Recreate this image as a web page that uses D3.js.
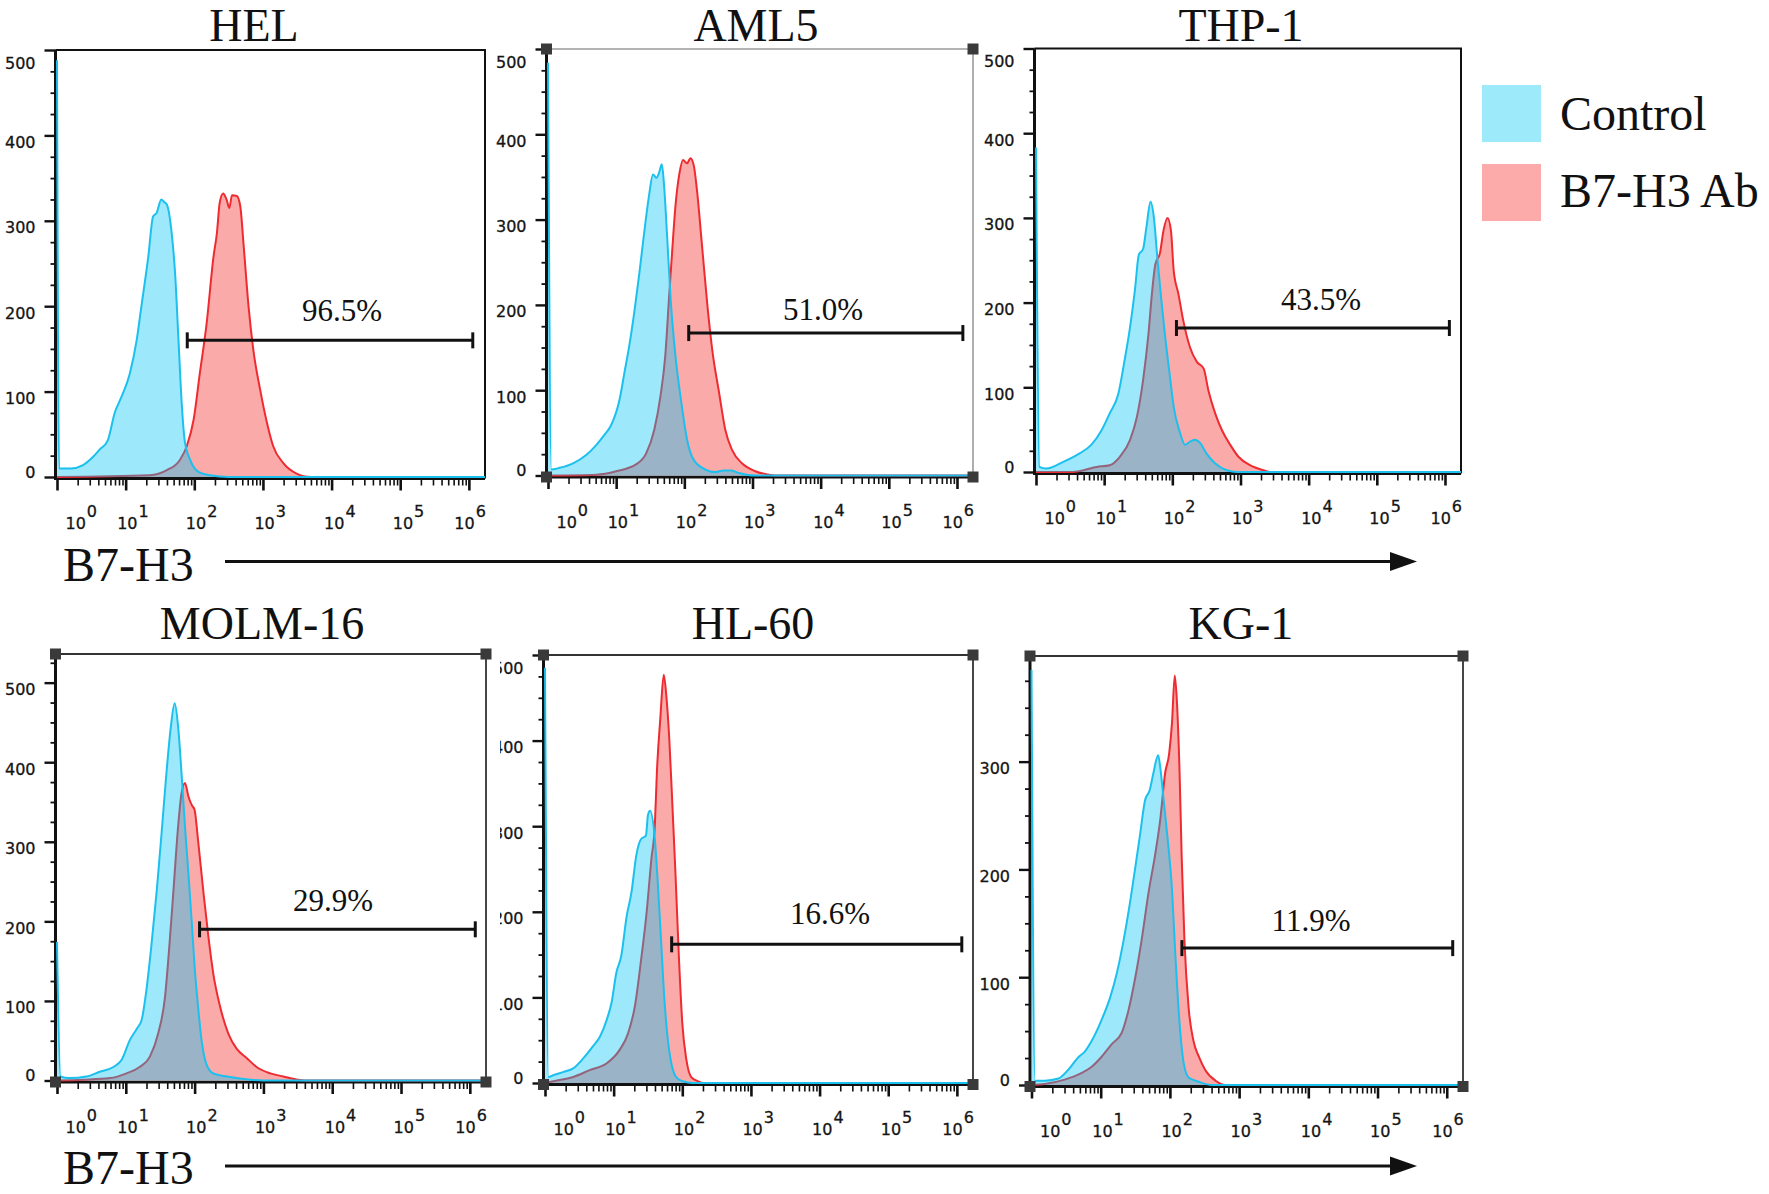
<!DOCTYPE html>
<html><head><meta charset="utf-8">
<script src="https://cdn.jsdelivr.net/npm/d3@7"></script>
<style>body{margin:0;background:#fff}</style>
</head><body>
<svg id="chart" width="1769" height="1194" xmlns="http://www.w3.org/2000/svg"></svg>
<script>
// ---------------- DATA ----------------
const panelNames = ["HEL", "AML5", "THP-1", "MOLM-16", "HL-60", "KG-1"];
const gatePercents = ["96.5%", "51.0%", "43.5%", "29.9%", "16.6%", "11.9%"];
const gateLow = [79, 116, 115, 118, 70, 149];
const gateHigh = [1.14e6, 1.22e6, 1.16e6, 1.2e6, 1.18e6, 1.22e6];
const countMax = [500, 500, 500, 536, 500, 398];
const countMajorTicks = [0, 100, 200, 300, 400, 500];
const decadeExponents = ["0", "1", "2", "3", "4", "5", "6"];
const legendLabels = ["Control", "B7-H3 Ab"];
const axisTitle = "B7-H3";

// [log10 fluorescence, count]
const helControl = [[0,488],[0.03,10],[0.2,10],[0.38,14],[0.53,24],[0.62,32],[0.74,43],[0.84,75],[0.94,94],[1.06,121],[1.16,160],[1.23,200],[1.33,258],[1.40,305],[1.45,309],[1.52,325],[1.56,322],[1.60,319],[1.67,286],[1.72,239],[1.77,160],[1.82,82],[1.86,43],[1.94,20],[2.06,6],[2.23,2],[2.5,0],[6.235,0]];
const helAb = [[0,0],[1.35,2],[1.60,8],[1.79,20],[1.89,36],[1.99,67],[2.08,121],[2.18,180],[2.28,258],[2.33,286],[2.37,321],[2.42,332],[2.47,325],[2.51,315],[2.55,330],[2.62,329],[2.67,317],[2.72,270],[2.79,200],[2.86,149],[2.96,102],[3.06,63],[3.15,36],[3.30,16],[3.49,4],[3.59,1],[3.7,0],[6.235,0]];
const aml5Control = [[0,484],[0.05,7],[0.17,9],[0.36,14],[0.56,24],[0.71,36],[0.83,48],[0.92,58],[1.05,89],[1.12,120],[1.19,151],[1.27,194],[1.34,237],[1.41,284],[1.48,327],[1.54,353],[1.59,349],[1.63,355],[1.67,365],[1.70,343],[1.75,277],[1.80,206],[1.87,140],[1.95,89],[2.04,42],[2.14,18],[2.31,7],[2.45,4],[2.58,6],[2.68,6],[2.8,3],[3.04,0],[6.235,0]];
const aml5Ab = [[0,0],[0.71,1],[1.0,5],[1.29,13],[1.44,26],[1.56,54],[1.65,93],[1.72,140],[1.78,214],[1.82,261],[1.87,316],[1.93,355],[1.98,370],[2.04,366],[2.09,372],[2.14,363],[2.19,331],[2.26,269],[2.34,198],[2.41,147],[2.51,97],[2.60,54],[2.70,30],[2.85,14],[3.04,5],[3.24,1],[3.4,0],[6.235,0]];
const thp1Control = [[0,383],[0.05,6],[0.15,4],[0.40,12],[0.64,22],[0.81,32],[0.96,49],[1.08,69],[1.21,93],[1.30,132],[1.38,171],[1.45,214],[1.51,257],[1.57,263],[1.62,289],[1.68,319],[1.73,300],[1.78,253],[1.84,202],[1.89,163],[1.96,116],[2.02,77],[2.11,47],[2.19,32],[2.26,36],[2.33,38],[2.41,34],[2.50,22],[2.63,10],[2.80,2],[2.95,0],[6.235,0]];
const thp1Ab = [[0,0],[0.54,0],[0.89,6],[1.08,8],[1.23,18],[1.38,38],[1.48,65],[1.57,108],[1.65,163],[1.70,210],[1.75,245],[1.82,259],[1.87,285],[1.93,300],[1.98,285],[2.02,238],[2.09,210],[2.16,179],[2.26,147],[2.36,130],[2.46,122],[2.53,96],[2.63,69],[2.73,49],[2.85,32],[2.97,18],[3.14,8],[3.34,2],[3.44,0],[6.235,0]];
const molm16Control = [[0,174],[0.05,5],[0.18,3],[0.43,5],[0.62,11],[0.82,17],[0.94,26],[1.06,51],[1.16,65],[1.23,76],[1.30,114],[1.37,168],[1.45,239],[1.52,311],[1.59,386],[1.65,441],[1.71,474],[1.76,445],[1.81,386],[1.86,319],[1.91,260],[1.96,197],[2.00,143],[2.05,93],[2.10,51],[2.17,21],[2.27,9],[2.47,5],[2.81,1],[3.0,0],[6.235,0]];
const molm16Ab = [[0,0],[0.38,1],[0.77,3],[1.01,9],[1.20,17],[1.35,30],[1.47,59],[1.57,105],[1.64,177],[1.70,248],[1.76,319],[1.81,361],[1.86,374],[1.91,357],[1.96,346],[2.00,340],[2.05,302],[2.13,235],[2.20,181],[2.27,135],[2.37,93],[2.49,59],[2.61,40],[2.76,28],[2.90,17],[3.10,9],[3.29,5],[3.49,1],[3.6,0],[6.235,0]];
const hl60Control = [[0,485],[0.05,7],[0.12,9],[0.27,13],[0.41,17],[0.56,29],[0.70,43],[0.80,54],[0.90,74],[0.97,94],[1.04,129],[1.11,148],[1.19,195],[1.26,223],[1.33,266],[1.40,285],[1.47,289],[1.50,313],[1.53,318],[1.60,285],[1.64,238],[1.69,168],[1.74,97],[1.79,50],[1.84,23],[1.91,7],[2.01,2],[2.15,0],[6.235,0]];
const hl60Ab = [[0,0],[0.12,2],[0.41,7],[0.65,15],[0.90,23],[1.09,39],[1.21,58],[1.31,90],[1.40,144],[1.48,199],[1.55,262],[1.60,301],[1.63,363],[1.68,426],[1.73,477],[1.77,450],[1.81,403],[1.86,317],[1.90,246],[1.95,148],[2.00,70],[2.06,27],[2.13,7],[2.23,2],[2.30,0],[6.235,0]];
const kg1Control = [[0,385],[0.05,4],[0.19,4],[0.39,6],[0.53,14],[0.68,26],[0.77,31],[0.87,41],[1.01,60],[1.14,82],[1.23,103],[1.33,134],[1.43,172],[1.50,202],[1.57,233],[1.64,264],[1.71,274],[1.76,289],[1.83,306],[1.86,295],[1.91,264],[1.96,233],[2.03,181],[2.08,119],[2.14,57],[2.20,20],[2.27,7],[2.42,3],[2.61,0],[6.235,0]];
const kg1Ab = [[0,0],[0.19,1],[0.48,5],[0.72,11],[0.87,17],[1.01,26],[1.16,38],[1.30,48],[1.40,69],[1.50,100],[1.59,134],[1.69,178],[1.79,215],[1.86,246],[1.93,289],[1.99,308],[2.03,336],[2.07,380],[2.10,357],[2.14,289],[2.17,212],[2.21,134],[2.27,72],[2.34,41],[2.42,26],[2.51,14],[2.66,4],[2.80,0],[6.235,0]];

const controlSeries = [helControl, aml5Control, thp1Control, molm16Control, hl60Control, kg1Control];
const antibodySeries = [helAb, aml5Ab, thp1Ab, molm16Ab, hl60Ab, kg1Ab];

// ---------------- LAYOUT / STYLE ----------------
const LOG_MAX = 6.235;
const panels = [
  {L:57,   R:485, T:50,   B:477,    frame:"#111", fw:2,   squares:false, tx:254,  ty:41,  px:342,  py:321, gy:160},
  {L:548,  R:973, T:49,   B:475.5,  frame:"#9a9a9a", fw:1.6, squares:true, tx:756, ty:41, px:823, py:319.5, gy:167},
  {L:1036, R:1461,T:48.5, B:472,    frame:"#111", fw:2,   squares:false, tx:1241, ty:41,  px:1321, py:310, gy:170},
  {L:57,   R:486, T:654,  B:1080.5, frame:"#333", fw:1.8, squares:true,  tx:262,  ty:639, px:333,  py:911, gy:190},
  {L:545,  R:973, T:655,  B:1083,   frame:"#333", fw:1.8, squares:true,  tx:753,  ty:639, px:830,  py:924, gy:162, clipX:500},
  {L:1031.5,R:1463,T:656, B:1085,   frame:"#333", fw:1.8, squares:true,  tx:1241, ty:639, px:1311, py:931, gy:127}
];
const labelShift = [8, -9, -9, -9, -8, -8, -15];
const COL = {abFill:"#fbaaaa", abLine:"#ee2b31", ctlFill:"rgba(0,195,245,0.38)", ctlLine:"#1cc0ee",
             ctlSwatch:"#9deafb", abSwatch:"#fcaaaa"};
const SERIF = "'Liberation Serif','Times New Roman',serif";
const SANS = "'DejaVu Sans',sans-serif";

const svg = d3.select("#chart");
svg.append("rect").attr("width",1769).attr("height",1194).attr("fill","#fff");
const defs = svg.append("defs");

panels.forEach((p, i) => {
  const g = svg.append("g").attr("class", "panel");
  const x = d3.scaleLog().domain([1, Math.pow(10, LOG_MAX)]).range([p.L, p.R]);
  const y = d3.scaleLinear().domain([0, countMax[i]]).range([p.B, p.T]);

  // frame (top + right)
  g.append("path").attr("d", `M${p.L - 1.5},${p.T}H${p.R}V${p.B + 1.5}`)
    .attr("fill", "none").attr("stroke", p.frame).attr("stroke-width", p.fw);

  // Y axis
  const minorY = d3.range(0, countMax[i] + 0.01, 25).filter(v => v % 100 !== 0);
  const majorY = countMajorTicks.filter(v => v <= countMax[i]);
  const yWrap = g.append("g");
  if (p.clipX) {
    const id = "clip" + i;
    defs.append("clipPath").attr("id", id).append("rect")
      .attr("x", p.clipX).attr("y", 0).attr("width", 2000).attr("height", 2000);
    yWrap.attr("clip-path", `url(#${id})`);
  }
  const yMinor = yWrap.append("g").attr("transform", `translate(${p.L - 1.5},0)`)
    .call(d3.axisLeft(y).tickValues(minorY).tickSize(5).tickFormat(""));
  yMinor.select(".domain").remove();
  yMinor.selectAll(".tick line").attr("stroke", "#111").attr("stroke-width", 1.8);
  const yMajor = yWrap.append("g").attr("transform", `translate(${p.L - 1.5},0)`)
    .call(d3.axisLeft(y).tickValues(majorY).tickSize(11).tickFormat(d3.format("d")));
  yMajor.select(".domain").remove();
  yMajor.selectAll(".tick line").attr("stroke", "#111").attr("stroke-width", 2.4);
  yMajor.attr("font-family", SANS).attr("font-size", 16);
  yMajor.selectAll(".tick text")
    .attr("x", -20).attr("dy", d => d === 0 ? 0 : (Math.abs(y(d) - p.T) < 3 ? 18 : 12))
    .attr("font-family", SANS).attr("font-size", 16).attr("fill", "#151515")
    .attr("stroke", "#151515").attr("stroke-width", 0.3);

  // X axis
  const majorX = [0,1,2,3,4,5,6].map(k => Math.pow(10, k));
  const minorX = [];
  for (let k = 0; k < 6; k++) for (let m = 2; m <= 9; m++) minorX.push(m * Math.pow(10, k));
  const xMinor = g.append("g").attr("transform", `translate(0,${p.B + 1.5})`)
    .call(d3.axisBottom(x).tickValues(minorX).tickSize(7).tickFormat(""));
  xMinor.select(".domain").remove();
  xMinor.selectAll(".tick line").attr("stroke", "#111").attr("stroke-width", 1.6);
  const xMajor = g.append("g").attr("transform", `translate(0,${p.B + 1.5})`)
    .call(d3.axisBottom(x).tickValues(majorX).tickSize(12).tickFormat(""));
  xMajor.select(".domain").remove();
  xMajor.selectAll(".tick line").attr("stroke", "#111").attr("stroke-width", 2.6);
  xMajor.selectAll(".tick text").remove();
  xMajor.selectAll(".tick").each(function(d, j) {
    const t = d3.select(this).append("text")
      .attr("x", labelShift[j]).attr("y", 50.5)
      .attr("text-anchor", "start").attr("font-family", SANS).attr("font-size", 16)
      .attr("fill", "#151515").attr("stroke", "#151515").attr("stroke-width", 0.3);
    t.append("tspan").text("10");
    t.append("tspan").attr("dx", 1).attr("dy", -12).text(decadeExponents[j]);
  });

  // axis lines
  g.append("line").attr("x1", p.L - 1.5).attr("x2", p.L - 1.5).attr("y1", p.T).attr("y2", p.B + 3)
    .attr("stroke", "#111").attr("stroke-width", 3);
  g.append("line").attr("x1", p.L - 3).attr("x2", p.R).attr("y1", p.B + 1.5).attr("y2", p.B + 1.5)
    .attr("stroke", "#111").attr("stroke-width", 3);

  // histograms
  const area = d3.area().x(d => x(Math.pow(10, d[0]))).y0(y(0)).y1(d => y(d[1])).curve(d3.curveMonotoneX);
  const line = d3.line().x(d => x(Math.pow(10, d[0]))).y(d => y(d[1])).curve(d3.curveMonotoneX);
  g.append("path").datum(antibodySeries[i]).attr("d", area).attr("fill", COL.abFill);
  g.append("path").datum(antibodySeries[i]).attr("d", line).attr("fill", "none")
    .attr("stroke", COL.abLine).attr("stroke-width", 2).attr("stroke-linejoin", "round");
  g.append("path").datum(controlSeries[i]).attr("d", area).attr("fill", COL.ctlFill);
  g.append("path").datum(controlSeries[i]).attr("d", line).attr("fill", "none")
    .attr("stroke", COL.ctlLine).attr("stroke-width", 2).attr("stroke-linejoin", "round");

  // corner squares
  if (p.squares) {
    [[p.L - 1.5, p.T], [p.R, p.T], [p.L - 1.5, p.B + 1.5], [p.R, p.B + 1.5]].forEach(c => {
      g.append("rect").attr("x", c[0] - 5.5).attr("y", c[1] - 5.5).attr("width", 11).attr("height", 11)
        .attr("fill", "#3a3a3a");
    });
  }

  // gate
  const gx1 = x(gateLow[i]), gx2 = x(gateHigh[i]), gyy = y(p.gy);
  g.append("line").attr("x1", gx1).attr("x2", gx2).attr("y1", gyy).attr("y2", gyy)
    .attr("stroke", "#111").attr("stroke-width", 3);
  [gx1, gx2].forEach(xx => g.append("line").attr("x1", xx).attr("x2", xx)
    .attr("y1", gyy - 8).attr("y2", gyy + 8).attr("stroke", "#111").attr("stroke-width", 3));
  g.append("text").attr("x", p.px).attr("y", p.py).attr("text-anchor", "middle")
    .attr("font-family", SERIF).attr("font-size", 31).attr("fill", "#111").text(gatePercents[i]);

  // title
  g.append("text").attr("x", p.tx).attr("y", p.ty).attr("text-anchor", "middle")
    .attr("font-family", SERIF).attr("font-size", 46).attr("fill", "#111").text(panelNames[i]);
});

// legend
const legend = svg.append("g");
[[COL.ctlSwatch, 85, 130], [COL.abSwatch, 164, 207]].forEach((s, k) => {
  legend.append("rect").attr("x", 1482).attr("y", s[1]).attr("width", 59).attr("height", 57).attr("fill", s[0]);
  legend.append("text").attr("x", 1560).attr("y", s[2]).attr("font-family", SERIF).attr("font-size", 48)
    .attr("fill", "#111").text(legendLabels[k]);
});

// axis titles with arrows
[[581, 561.5], [1184, 1166]].forEach(r => {
  svg.append("text").attr("x", 63).attr("y", r[0]).attr("font-family", SERIF).attr("font-size", 48)
    .attr("fill", "#111").text(axisTitle);
  svg.append("line").attr("x1", 225).attr("x2", 1395).attr("y1", r[1]).attr("y2", r[1])
    .attr("stroke", "#111").attr("stroke-width", 3);
  svg.append("path").attr("d", `M1390,${r[1] - 9.5}L1417,${r[1]}L1390,${r[1] + 9.5}Z`).attr("fill", "#111");
});
</script>
</body></html>
